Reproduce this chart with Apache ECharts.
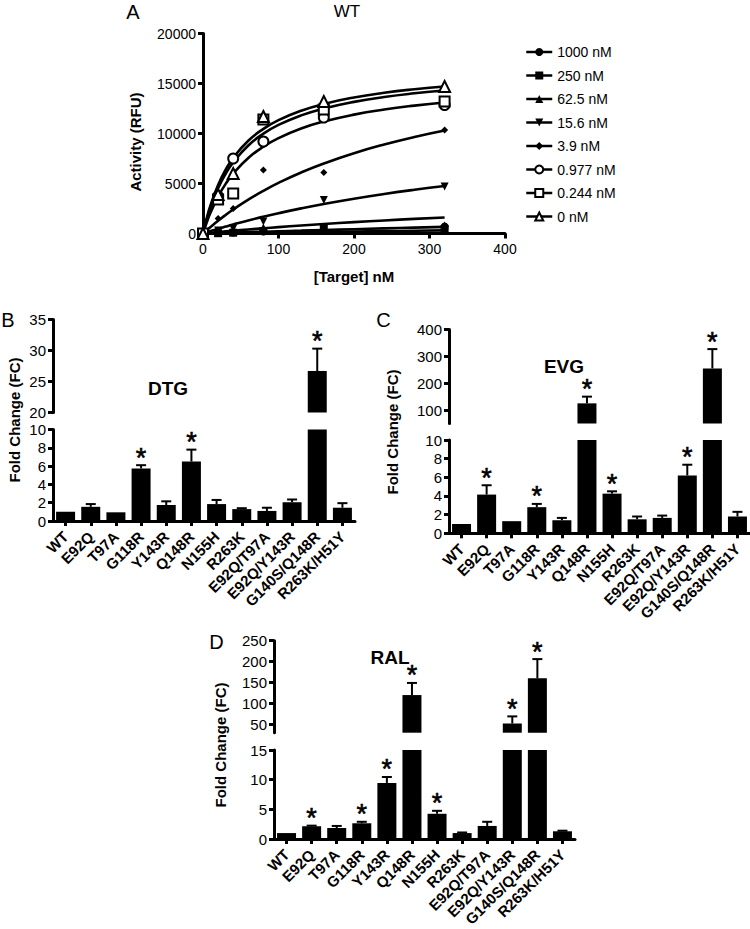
<!DOCTYPE html>
<html><head><meta charset="utf-8">
<script src="https://cdn.jsdelivr.net/npm/echarts@6/dist/echarts.min.js"></script>
<style>html,body{margin:0;padding:0;background:#fff}#c{width:750px;height:929px}</style>
</head><body><div id="c"></div>
<script>
// ---------- Panel A data ----------
const concLabels = ['1000 nM','250 nM','62.5 nM','15.6 nM','3.9 nM','0.977 nM','0.244 nM','0 nM'];
const targetNM = [0, 20, 40, 80, 160, 320];
const act1000 = [0, 100, 100, 200, 250, 700];
const act250  = [0, 30, 80, 250, 500, 450];
const act62   = [0, 80, 150, 600, 450, 800];
const act15   = [0, 300, 500, 1200, 3350, 4700];
const act3_9  = [0, 1500, 2500, 6350, 6100, 10350];
const act0977 = [0, 3700, 7500, 9200, 11600, 12850];
const act0244 = [0, 3400, 4000, 11400, 12400, 13200];
const act0    = [0, 3900, 6000, 11700, 13200, 14700];
// fitted curves
const fitX    = [0, 5, 10, 20, 30, 40, 60, 80, 100, 130, 160, 200, 240, 280, 320];
const fit0    = [0, 1545, 2833, 4857, 6375, 7556, 9273, 10462, 11333, 12278, 12952, 13600, 14069, 14424, 14703];
const fit0977 = [0, 1417, 2613, 4519, 5971, 7115, 8800, 9982, 10857, 11813, 12501, 13165, 13649, 14017, 14306];
const fit0244 = [0, 1121, 2093, 3695, 4962, 5988, 7549, 8681, 9539, 10497, 11200, 11890, 12399, 12790, 13101];
const fit3_9  = [0, 336, 660, 1277, 1854, 2396, 3386, 4267, 5057, 6099, 7000, 8029, 8901, 9649, 10298];
const fit15   = [0, 120, 239, 468, 689, 901, 1304, 1679, 2028, 2511, 2950, 3477, 3947, 4369, 4749];
const fit62   = [0, 36, 72, 142, 210, 276, 404, 524, 639, 800, 950, 1134, 1303, 1458, 1600];
const fit250  = [0, 10, 20, 45, 68, 90, 135, 180, 222, 285, 350, 430, 510, 585, 660];
const fit1000 = [0, 5, 10, 20, 30, 40, 60, 80, 100, 128, 160, 198, 235, 272, 310];

// ---------- Bar panel data ----------
const mutants = ['WT','E92Q','T97A','G118R','Y143R','Q148R','N155H','R263K','E92Q/T97A','E92Q/Y143R','G140S/Q148R','R263K/H51Y'];
const dtgFC  = [1.0, 1.55, 0.95, 5.75, 1.75, 6.5, 1.85, 1.3, 1.1, 2.05, 26.7, 1.45];
const dtgErr = [0.05, 0.3, 0.05, 0.35, 0.4, 1.3, 0.45, 0.1, 0.35, 0.3, 3.6, 0.5];
const dtgSig = [0, 0, 0, 1, 0, 1, 0, 0, 0, 0, 1, 0];
const evgFC  = [1.0, 4.15, 1.3, 2.8, 1.4, 125, 4.25, 1.5, 1.65, 6.2, 255, 1.8];
const evgErr = [0.05, 1.0, 0.05, 0.35, 0.25, 25, 0.25, 0.3, 0.25, 1.15, 72, 0.5];
const evgSig = [0, 1, 0, 1, 0, 1, 1, 0, 0, 1, 1, 0];
const ralFC  = [1.0, 2.15, 1.85, 2.65, 9.45, 120, 4.25, 1.0, 2.2, 52, 160, 1.3];
const ralErr = [0.05, 0.1, 0.35, 0.25, 1.0, 29, 0.5, 0.1, 0.7, 17, 46, 0.1];
const ralSig = [0, 1, 0, 1, 1, 1, 1, 0, 0, 1, 1, 0];
const evgUpperTicks = [100, 200, 300, 400];
const ralUpperTicks = [50, 100, 150, 200, 250];

const FONT = '"Liberation Sans", Arial, sans-serif';
const chart = echarts.init(document.getElementById('c'), null, {renderer: 'svg'});

const pairs = (xs, ys) => xs.map((x, i) => [x, ys[i]]);
const markerDefs = [
  {name: concLabels[0], d: act1000, sym: 'circle', size: 8},
  {name: concLabels[1], d: act250, sym: 'rect', size: 8},
  {name: concLabels[2], d: act62, sym: 'triangle', size: 8},
  {name: concLabels[3], d: act15, sym: 'triangle', size: 8, rot: 180},
  {name: concLabels[4], d: act3_9, sym: 'diamond', size: 7},
  {name: concLabels[5], d: act0977, sym: 'emptyCircle', size: 10},
  {name: concLabels[6], d: act0244, sym: 'emptyRect', size: 10},
  {name: concLabels[7], d: act0, sym: 'emptyTriangle', size: 11}
];
const fits = [fit1000, fit250, fit62, fit15, fit3_9, fit0977, fit0244, fit0];

const series = [];
fits.forEach((f, k) => {
  series.push({type: 'line', name: 'fit' + k, xAxisIndex: 0, yAxisIndex: 0, data: pairs(fitX, f),
    smooth: true, showSymbol: false, symbol: 'none', silent: true,
    lineStyle: {color: '#000', width: 2.6}, z: 2});
});
markerDefs.forEach(m => {
  series.push({type: 'line', name: m.name, xAxisIndex: 0, yAxisIndex: 0, data: pairs(targetNM, m.d),
    symbol: m.sym, symbolSize: m.size, symbolRotate: m.rot || 0, showAllSymbol: true,
    itemStyle: {color: '#000', borderWidth: 1.6}, lineStyle: {opacity: 0, width: 2}, z: 3});
});

const axisLineS = {show: true, lineStyle: {color: '#000', width: 3}};
const tickS = {show: true, length: 5, lineStyle: {color: '#000', width: 3}};
const grids = [{left: 203, top: 33.5, width: 302, height: 200}];
const xAxes = [{type: 'value', gridIndex: 0, min: 0, max: 400, interval: 100,
  axisLine: axisLineS, axisTick: tickS, splitLine: {show: false},
  axisLabel: {color: '#000', fontSize: 14, fontFamily: FONT, margin: 8}}];
const yAxes = [{type: 'value', gridIndex: 0, min: 0, max: 20000, interval: 5000,
  axisLine: axisLineS, axisTick: tickS, splitLine: {show: false},
  axisLabel: {color: '#000', fontSize: 14, fontFamily: FONT, margin: 7, formatter: v => String(v)}}];

function errRender(params, api) {
  const i = api.value(0), v = api.value(1), e = api.value(2), s = api.value(3);
  const p0 = api.coord([i, v]);
  const p1 = api.coord([i, v + e]);
  const ch = [];
  if (e > 0.06) {
    ch.push({type: 'line', shape: {x1: p0[0], y1: p0[1], x2: p1[0], y2: p1[1]}, style: {stroke: '#000', lineWidth: 2}});
    ch.push({type: 'line', shape: {x1: p1[0] - 5, y1: p1[1], x2: p1[0] + 5, y2: p1[1]}, style: {stroke: '#000', lineWidth: 2}});
  }
  if (s) ch.push({type: 'text', style: {text: '*', x: p1[0], y: p1[1] + 6, align: 'center', verticalAlign: 'bottom',
    font: 'normal 27px ' + FONT, fill: '#000', stroke: '#000', lineWidth: 0.6}});
  return {type: 'group', children: ch};
}

function addBarPanel(cfg) {
  const gi = grids.length;
  grids.push({left: cfg.left, top: cfg.lowTop, width: cfg.width, height: cfg.lowH});
  grids.push({left: cfg.left, top: cfg.upTop, width: cfg.width, height: cfg.upH});
  xAxes.push({type: 'category', gridIndex: gi, data: mutants, boundaryGap: true,
    axisLine: axisLineS, axisTick: {show: true, length: 5, alignWithLabel: true, lineStyle: {color: '#000', width: 3}},
    axisLabel: {color: '#000', fontSize: 15, fontWeight: 'bold', fontFamily: FONT, rotate: 45, margin: 13, interval: 0}});
  xAxes.push({type: 'category', gridIndex: gi + 1, data: mutants, boundaryGap: true, show: false});
  yAxes.push({type: 'value', gridIndex: gi, min: cfg.lowMin, max: cfg.lowMax, interval: cfg.lowInt,
    axisLine: axisLineS, axisTick: tickS, splitLine: {show: false},
    axisLabel: {color: '#000', fontSize: 15, fontFamily: FONT, margin: 7}});
  const up = {type: 'value', gridIndex: gi + 1, min: cfg.upMin, max: cfg.upMax,
    axisLine: axisLineS, axisTick: Object.assign({}, tickS), splitLine: {show: false},
    axisLabel: {color: '#000', fontSize: 15, fontFamily: FONT, margin: 7}};
  if (cfg.upTicks) {
    up.axisTick.customValues = cfg.upTicks;
    up.axisLabel.customValues = cfg.upTicks;
  } else up.interval = cfg.upInt;
  yAxes.push(up);
  const xi = xAxes.length - 2, yi = yAxes.length - 2;
  [0, 1].forEach(k => {
    series.push({type: 'bar', xAxisIndex: xi + k, yAxisIndex: yi + k, data: cfg.fc, barWidth: 19, clip: true,
      itemStyle: {color: '#000'}, silent: true});
  });
  const low = [], upp = [];
  cfg.fc.forEach((v, i) => {
    const item = [i, v, cfg.err[i], cfg.sig[i]];
    if (v < cfg.lowMax) low.push(item); else if (v > cfg.upMin) upp.push(item);
  });
  series.push({type: 'custom', xAxisIndex: xi, yAxisIndex: yi, data: low, renderItem: errRender, encode: {x: 0, y: 1}, z: 5, silent: true});
  series.push({type: 'custom', xAxisIndex: xi + 1, yAxisIndex: yi + 1, data: upp, renderItem: errRender, encode: {x: 0, y: 1}, z: 5, silent: true});
}

addBarPanel({left: 53, width: 302, lowTop: 429.5, lowH: 91.5, upTop: 319.5, upH: 93,
  lowMin: 0, lowMax: 10, lowInt: 2, upMin: 20, upMax: 35, upInt: 5, fc: dtgFC, err: dtgErr, sig: dtgSig});
addBarPanel({left: 449, width: 301, lowTop: 440, lowH: 93.3, upTop: 329.5, upH: 94,
  lowMin: 0, lowMax: 10, lowInt: 2, upMin: 50, upMax: 400, upTicks: evgUpperTicks, fc: evgFC, err: evgErr, sig: evgSig});
addBarPanel({left: 274, width: 301, lowTop: 750, lowH: 91, upTop: 640.7, upH: 92,
  lowMin: 0, lowMax: 15, lowInt: 5, upMin: 30, upMax: 250, upTicks: ralUpperTicks, fc: ralFC, err: ralErr, sig: ralSig});

const txt = (x, y, s, size, weight, rot) => ({type: 'text', x: x, y: y, rotation: rot || 0,
  style: {text: s, font: (weight || 'normal') + ' ' + size + 'px ' + FONT, fill: '#000', align: 'center', verticalAlign: 'middle'}});
const R = Math.PI / 2;

chart.setOption({
  animation: false,
  backgroundColor: '#fff',
  grid: grids, xAxis: xAxes, yAxis: yAxes, series: series,
  legend: {orient: 'vertical', left: 520, top: 39, itemWidth: 26, itemHeight: 10, itemGap: 7.5,
    textStyle: {fontSize: 14, fontFamily: FONT, color: '#000', lineHeight: 16},
    data: markerDefs.map(m => ({name: m.name, lineStyle: {opacity: 1, width: 2.5, color: '#000'}})),
    selectedMode: false},
  graphic: [
    txt(133, 12, 'A', 20), txt(347, 11, 'WT', 17),
    txt(135, 142, 'Activity (RFU)', 15, 'bold', R),
    txt(354, 276, '[Target] nM', 15, 'bold'),
    txt(8, 319.5, 'B', 20), txt(14, 420, 'Fold Change (FC)', 15, 'bold', R), txt(168, 388, 'DTG', 19, 'bold'),
    txt(383.5, 319.5, 'C', 20), txt(392, 432, 'Fold Change (FC)', 15, 'bold', R), txt(564, 366, 'EVG', 19, 'bold'),
    txt(216.5, 641.5, 'D', 20), txt(220, 745, 'Fold Change (FC)', 15, 'bold', R), txt(390, 657, 'RAL', 19, 'bold')
  ]
});
</script></body></html>
